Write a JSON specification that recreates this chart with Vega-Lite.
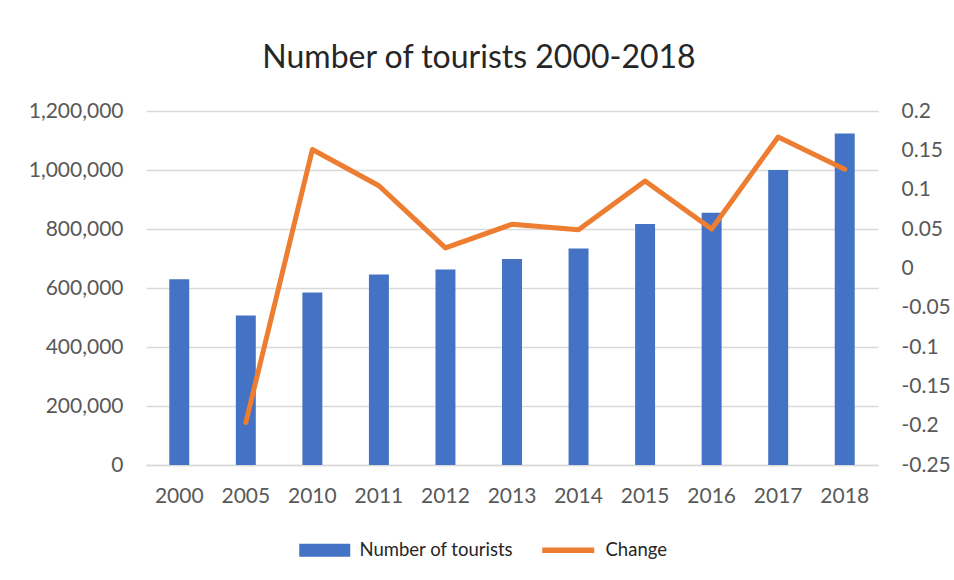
{
  "$schema": "https://vega.github.io/schema/vega-lite/v6.json",
  "width": 732,
  "height": 354,
  "padding": {"left": 28, "top": 42, "right": 0, "bottom": 0},
  "background": "white",
  "config": {
    "locale": {"number": {"decimal": ".", "thousands": ",", "grouping": [3], "currency": ["$", ""], "minus": "-"}},
    "view": {"stroke": null},
    "font": "Lato",
    "axis": {"labelFont": "Lato", "labelColor": "#595959", "labelFontSize": 21, "ticks": false, "title": null},
    "legend": {
      "labelFont": "Lato",
      "labelFontSize": 18.5,
      "labelColor": "#262626"
    }
  },
  "title": {
    "text": "Number of tourists 2000-2018",
    "font": "Lato",
    "fontSize": 32,
    "fontWeight": "normal",
    "color": "#262626",
    "dx": -33,
    "offset": 25
  },
  "data": {
    "values": [
      {"year": "2000", "tourists": 630000, "change": null},
      {"year": "2005", "tourists": 507000, "change": -0.196},
      {"year": "2010", "tourists": 585000, "change": 0.151},
      {"year": "2011", "tourists": 646000, "change": 0.105},
      {"year": "2012", "tourists": 663000, "change": 0.026},
      {"year": "2013", "tourists": 698000, "change": 0.056},
      {"year": "2014", "tourists": 734000, "change": 0.049},
      {"year": "2015", "tourists": 817000, "change": 0.111},
      {"year": "2016", "tourists": 855000, "change": 0.050},
      {"year": "2017", "tourists": 1000000, "change": 0.167},
      {"year": "2018", "tourists": 1124000, "change": 0.126}
    ]
  },
  "encoding": {
    "x": {
      "field": "year",
      "type": "ordinal",
      "sort": null,
      "scale": {"paddingInner": 0.7, "paddingOuter": 0.35},
      "axis": {"labelAngle": 0, "labelPadding": 20, "domain": true, "domainColor": "#d9d9d9", "domainWidth": 1.5, "grid": false}
    }
  },
  "layer": [
    {
      "mark": {"type": "bar"},
      "encoding": {
        "y": {
          "field": "tourists",
          "type": "quantitative",
          "scale": {"domain": [0, 1200000]},
          "axis": {
            "orient": "left",
            "format": ",.0f",
            "values": [0, 200000, 400000, 600000, 800000, 1000000, 1200000],
            "labelPadding": 23,
            "domain": false,
            "grid": true,
            "gridColor": "#d9d9d9",
            "gridWidth": 1.5
          }
        },
        "fill": {
          "datum": "Number of tourists",
          "type": "nominal",
          "scale": {"range": ["#4472C4"]},
          "legend": {
            "title": null,
            "orient": "none",
            "legendX": 149,
            "legendY": 430,
            "direction": "horizontal",
            "symbolType": "M-1,-1.3H9.2V1.3H-1Z",
            "symbolSize": 100,
            "symbolStrokeWidth": 0,
            "labelOffset": 46
          }
        }
      }
    },
    {
      "mark": {"type": "line", "strokeWidth": 5, "strokeCap": "round", "strokeJoin": "round"},
      "encoding": {
        "y": {
          "field": "change",
          "type": "quantitative",
          "scale": {"domain": [-0.25, 0.2]},
          "axis": {
            "orient": "right",
            "format": ".2~f",
            "values": [-0.25, -0.2, -0.15, -0.1, -0.05, 0, 0.05, 0.1, 0.15, 0.2],
            "labelPadding": 23,
            "domain": false,
            "grid": false
          }
        },
        "stroke": {
          "datum": "Change",
          "type": "nominal",
          "scale": {"range": ["#ED7D31"]},
          "legend": {
            "title": null,
            "orient": "none",
            "legendX": 390,
            "legendY": 430,
            "direction": "horizontal",
            "symbolType": "M-0.6,0H9.8",
            "symbolSize": 100,
            "symbolStrokeWidth": 5.5,
            "labelOffset": 51
          }
        }
      }
    }
  ],
  "resolve": {"scale": {"y": "independent"}}
}
